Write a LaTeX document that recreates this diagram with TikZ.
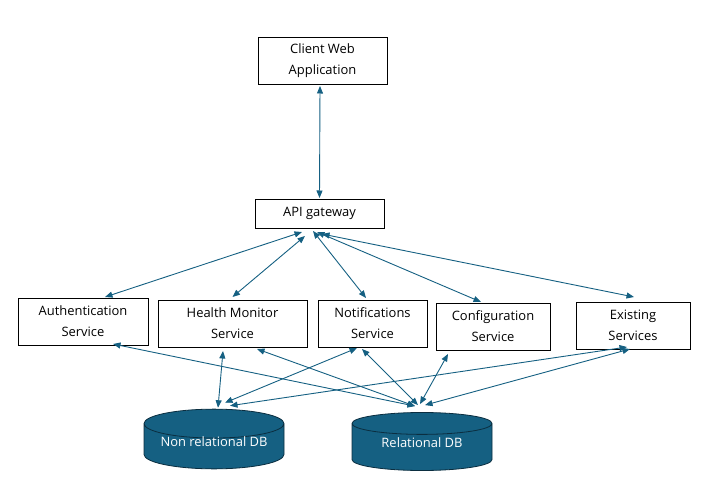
\documentclass[tikz,border=0pt]{standalone}
\usepackage{fontspec}
\setmainfont{Open Sans}
\usepackage{tikz}
\usetikzlibrary{arrows.meta}
\usetikzlibrary{positioning}
\usetikzlibrary{calc}
\usetikzlibrary{shapes.geometric}

\definecolor{linkblue}{HTML}{156082}
\definecolor{dbline}{HTML}{0B2E40}

\tikzset{
  box/.style={draw, line width=0.9bp, align=center, inner sep=0pt, outer sep=0pt,
    font=\fontsize{13}{21}\selectfont, minimum height=47bp},
  db/.style={cylinder, shape border rotate=90, aspect=0.27, draw=dbline,
    line width=0.8bp, fill=linkblue, text=white, minimum width=140bp,
    minimum height=58bp, anchor=shape center, inner sep=0pt,
    text height=8bp, text depth=8bp, font=\fontsize{13}{16}\selectfont},
  link/.style={draw=linkblue, line width=0.9bp,
    {Triangle[length=7.5bp,width=6bp]}-{Triangle[length=7.5bp,width=6bp]}},
}

\begin{document}
\begin{tikzpicture}[x=1bp, y=-1bp]
        \useasboundingbox (0,0) rectangle (716,479);

        \node [box, minimum width=129bp] (client) at (322.5,60.5) {Client Web\\Application};
        \node [box, minimum width=129bp, minimum height=29bp, below = 115bp of client, xshift=-3bp] (api) {API gateway};

        \node [box, minimum width=130bp] (auth) at (83,321.5) {Authentication\\Service};
        \node [box, minimum width=149bp, right = 10bp of auth, yshift=-2bp] (health) {Health Monitor\\Service};
        \node [box, minimum width=109bp, right = 11bp of health] (notif) {Notifications\\Service};
        \node [box, minimum width=114bp, right = 9bp of notif, yshift=-3bp] (config) {Configuration\\Service};
        \node [box, minimum width=114bp, right = 26bp of config, yshift=1bp] (exist) {Existing\\Services};

        \node [db] (nonrel) at (214,439) {Non relational DB};
        \node [db] (rel) at (422,441.5) {Relational DB};

        \draw [link] ($(client.south)+(-2.5,2)$) -- ($(api.north)+(0,-1)$);

        \draw [link] ($(api.south)+(-17.5,4)$) -- ($(auth.north)+(22,-1)$);
        \draw [link] ($(api.south)+(-14.5,8)$) -- ($(health.north)+(0,-3)$);
        \draw [link] ($(api.south)+(-6.5,3)$) -- ($(notif.north)+(-6.5,-2)$);
        \draw [link] ($(api.south)+(-2.5,4)$) -- ($(config.north)+(-12,-1)$);
        \draw [link] ($(api.south)+(2.5,6)$) -- ($(exist.north)+(1,-5)$);

        \draw [link] ($(auth.south)+(30,-1)$) -- ($(rel.north)+(-7,-6)$);
        \draw [link] ($(health.south)+(-9.5,4)$) -- ($(nonrel.north)+(4,-1)$);
        \draw [link] ($(health.south)+(24.5,2)$) -- ($(rel.north)+(-7,-6)$);
        \draw [link] ($(notif.south)+(-15.5,1)$) -- ($(nonrel.north)+(11,-6)$);
        \draw [link] ($(notif.south)+(-10.5,2)$) -- ($(rel.north)+(-4,-7)$);
        \draw [link] ($(config.south)+(-45,4)$) -- ($(rel.north)+(-2,-8)$);
        \draw [link] ($(exist.south)+(-6,-2)$) -- ($(nonrel.north)+(16,-3)$);
        \draw [link] ($(exist.south)+(-3,0)$) -- ($(rel.north)+(3,-7)$);
    \end{tikzpicture}
\end{document}
